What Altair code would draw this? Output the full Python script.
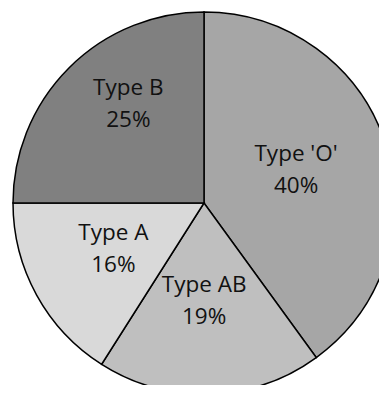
import altair as alt
import pandas as pd

types = ["Type 'O'", "Type AB", "Type A", "Type B"]
percents = [40, 19, 16, 25]
colors = ["#a6a6a6", "#bfbfbf", "#d9d9d9", "#808080"]

df = pd.DataFrame({
    "type": types,
    "pct": percents,
    "idx": list(range(len(types))),
})
df["label"] = df["type"] + "\n" + df["pct"].astype(str) + "%"

base = alt.Chart(df).encode(
    theta=alt.Theta("pct:Q", stack=True),
    order=alt.Order("idx:Q"),
)

pie = base.mark_arc(radius=191, stroke="black", strokeWidth=1.5).encode(
    color=alt.Color("type:N", scale=alt.Scale(domain=types, range=colors), legend=None),
    x=alt.value(196),
    y=alt.value(195),
)

text_style = dict(fontSize=22.5, font="Open Sans", color="#111111", lineBreak="\n",
                  lineHeight=32)

text_inner = base.mark_text(radius=100, dx=-3, dy=-18, **text_style).encode(
    text=alt.condition("datum.type != 'Type B'", "label:N", alt.value("")),
    x=alt.value(196),
    y=alt.value(195),
)
text_outer = base.mark_text(radius=124, dx=12, dy=-27, **text_style).encode(
    text=alt.condition("datum.type == 'Type B'", "label:N", alt.value("")),
    x=alt.value(196),
    y=alt.value(195),
)

chart = (pie + text_inner + text_outer).properties(
    width=371, height=377, padding=0, autosize=alt.AutoSizeParams(type="none")
).configure_view(stroke=None)

chart.save("out.html", embed_options={"renderer": "svg", "actions": False})
